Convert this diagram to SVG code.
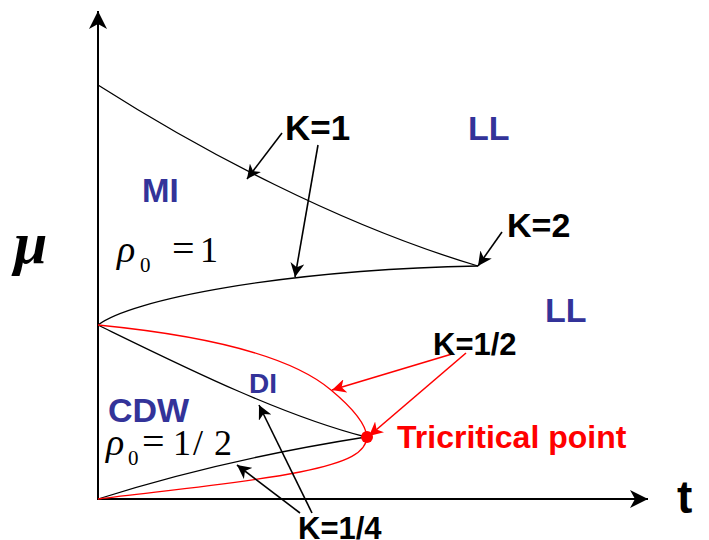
<svg xmlns="http://www.w3.org/2000/svg" width="709" height="540" viewBox="0 0 709 540">
<style>
.curve{fill:none;stroke:#000;stroke-width:1.3}
.rcurve{fill:none;stroke:#ff0000;stroke-width:1.3}
.axis{fill:none;stroke:#000;stroke-width:2}
.arr{fill:none;stroke:#000;stroke-width:1.6;marker-end:url(#ah)}
.rarr{fill:none;stroke:#ff0000;stroke-width:1.6;marker-end:url(#rah)}
.lbl{font-family:"Liberation Sans",Arial,sans-serif;font-weight:bold;fill:#000}
.phase{font-family:"Liberation Sans",Arial,sans-serif;font-weight:bold;fill:#333399}
.math{font-family:"Liberation Serif","Times New Roman",serif;fill:#000}
</style>
<defs>
<marker id="ah" markerUnits="userSpaceOnUse" markerWidth="16" markerHeight="14" refX="14" refY="7" orient="auto" viewBox="0 0 16 14">
<path d="M0,0 L14,7 L0,14 L4,7 z" fill="#000"/>
</marker>
<marker id="rah" markerUnits="userSpaceOnUse" markerWidth="16" markerHeight="14" refX="14" refY="7" orient="auto" viewBox="0 0 16 14">
<path d="M0,0 L14,7 L0,14 L4,7 z" fill="#ff0000"/>
</marker>
<marker id="axh" markerUnits="userSpaceOnUse" markerWidth="20" markerHeight="20" refX="18" refY="9" orient="auto" viewBox="0 0 20 20">
<path d="M0,0 L18,9 L0,18 L5,9 z" fill="#000"/>
</marker>
</defs>

<g id="axes">
<line class="axis" x1="98" y1="499" x2="98" y2="11" marker-end="url(#axh)"/>
<line class="axis" x1="97" y1="499" x2="648" y2="499" marker-end="url(#axh)"/>
</g>

<g id="curves">
<path class="curve" d="M98,85 C200,150 340,225 478,266"/>
<path class="curve" d="M98,325 C130,300 280,270 478,266"/>
<path class="curve" d="M98,325 C180,365 280,415 366,437"/>
<path class="curve" d="M98,499 Q220,460 366,437"/>
<path class="rcurve" d="M98,325 C200,335 290,355 331,390 C355,410 366,425 367,437 C366,452 350,462 300,472 C240,484 150,492 98,499"/>
</g>

<g id="tricritical-dot">
<circle cx="367" cy="437" r="6" fill="#ff0000"/>
</g>

<g id="connectors">
<line class="arr" x1="282" y1="133" x2="247" y2="179"/>
<line class="arr" x1="318" y1="145" x2="295" y2="277"/>
<line class="arr" x1="502" y1="232" x2="478" y2="266"/>
<line class="arr" x1="312" y1="513" x2="259" y2="405"/>
<line class="arr" x1="300" y1="513" x2="237" y2="465"/>
<line class="rarr" x1="452" y1="354" x2="332" y2="390"/>
<line class="rarr" x1="466" y1="353" x2="369" y2="436"/>
</g>

<g id="label-mu"><text class="math" x="14" y="263" font-size="60" font-style="italic" font-weight="bold">μ</text></g>
<g id="label-t"><text class="lbl" x="677" y="513" font-size="46">t</text></g>

<g id="label-K1"><text class="lbl" x="285" y="140" font-size="35">K=1</text></g>
<g id="label-K2"><text class="lbl" x="507" y="237" font-size="34">K=2</text></g>
<g id="label-K12"><text class="lbl" x="433" y="355" font-size="31">K=1/2</text></g>
<g id="label-K14"><text class="lbl" x="298" y="539" font-size="31">K=1/4</text></g>

<g id="phase-LL1"><text class="phase" x="468" y="140" font-size="34">LL</text></g>
<g id="phase-LL2"><text class="phase" x="545" y="322" font-size="34">LL</text></g>
<g id="phase-MI"><text class="phase" x="142" y="202" font-size="33">MI</text></g>
<g id="phase-CDW"><text class="phase" x="108" y="422" font-size="34">CDW</text></g>
<g id="phase-DI"><text class="phase" x="249" y="393" font-size="28">DI</text></g>

<g id="label-tricritical"><text x="397" y="448" font-size="32" font-family="Liberation Sans,Arial,sans-serif" font-weight="bold" fill="#ff0000">Tricritical point</text></g>

<g id="rho1">
<text class="math" x="117" y="262" font-size="38" font-style="italic">ρ</text>
<text class="math" x="140" y="272" font-size="21">0</text>
<text class="math" x="172" y="262" font-size="40">=</text>
<text class="math" x="200" y="262" font-size="36">1</text>
</g>
<g id="rho12">
<text class="math" x="106" y="455" font-size="38" font-style="italic">ρ</text>
<text class="math" x="128" y="465" font-size="21">0</text>
<text class="math" x="142" y="455" font-size="40">=</text>
<text class="math" x="173" y="455" font-size="36">1</text>
<text class="math" x="193" y="455" font-size="36">/</text>
<text class="math" x="214" y="455" font-size="36">2</text>
</g>
</svg>
